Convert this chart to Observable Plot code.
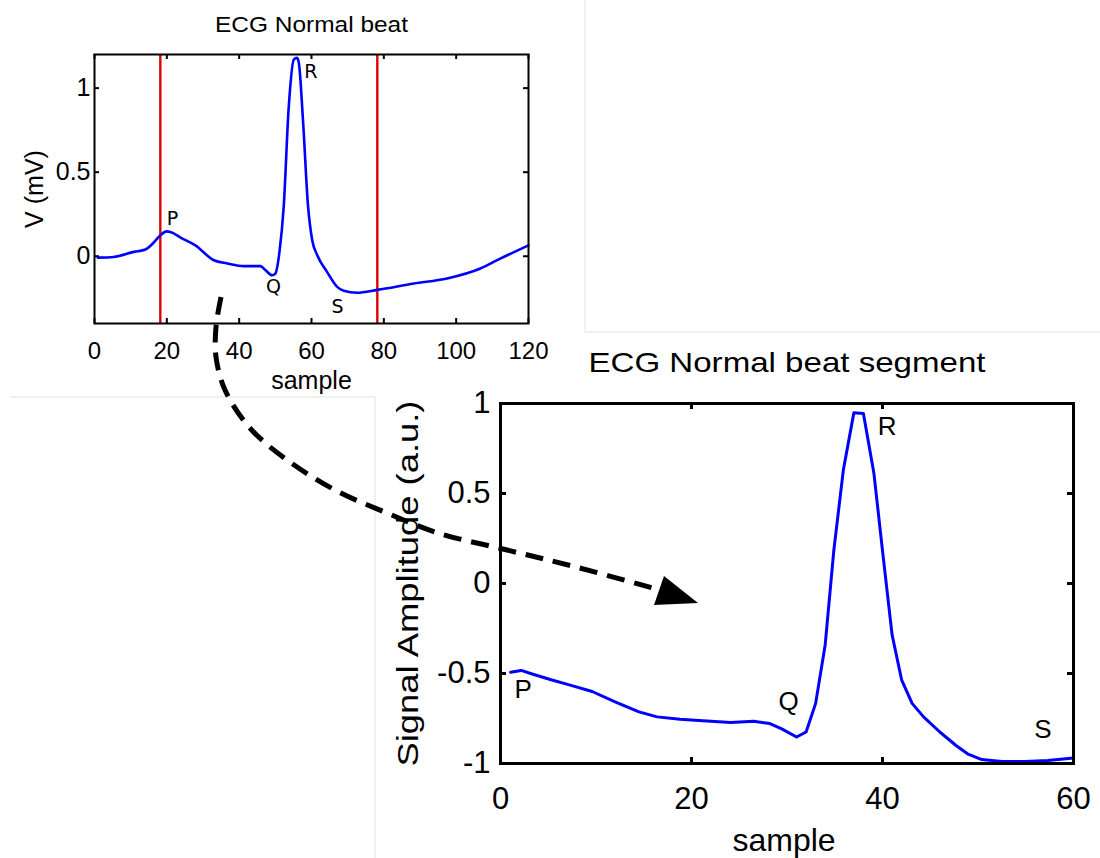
<!DOCTYPE html>
<html><head><meta charset="utf-8">
<script src="https://cdn.jsdelivr.net/npm/d3@7"></script>
<script src="https://cdn.jsdelivr.net/npm/@observablehq/plot@0.6"></script>
<style>
html,body{margin:0;padding:0;background:#fff;}
#root{position:relative;width:1100px;height:858px;overflow:hidden;background:#fff;}
#root > svg{position:absolute;}
</style></head><body><div id="root"></div>
<script>
// ---------- Data: full normal beat ----------
const beatSample = [0.9,5.3,10.9,14.1,15.9,18.2,19.9,21,23.8,27.9,33,36.7,41.3,45.9,47.3,49.1,50,51.2,52.3,53.7,55.1,56,56.5,57.7,59,60.2,61.6,64.3,67.1,68.9,72.6,78.2,88.3,97.5,106.7,112.2,120];
const beatValue  = [-0.008,-0.004,0.026,0.04,0.071,0.124,0.148,0.144,0.111,0.065,-0.024,-0.043,-0.059,-0.059,-0.083,-0.113,-0.103,0.036,0.29,0.885,1.17,1.18,1.15,0.79,0.31,0.095,0.006,-0.093,-0.182,-0.205,-0.217,-0.2,-0.162,-0.132,-0.073,-0.014,0.065];
const segmentBounds = [18.2, 78.2];
const waveLabels = ["P","Q","R","S"];
const beatLabelX = [20.0, 47.4, 58.0, 65.5];
const beatLabelY = [0.184, -0.221, 1.063, -0.336];
const beatXTicks = [0,20,40,60,80,100,120];
const beatYTicks = [0,0.5,1];

// ---------- Data: normalised segment ----------
const segSample = [1.06,2.17,3.4,5.3,7.2,9.6,12.0,14.5,16.4,18.8,21.2,24.1,26.5,28.2,29.4,31.0,32.0,33.0,34.0,34.9,35.9,37.0,38.0,39.1,40.0,41.0,42.0,43.1,44.3,46.0,47.7,48.9,50.4,52.5,54.9,57.3,60];
const segValue  = [-0.493,-0.483,-0.504,-0.535,-0.563,-0.6,-0.657,-0.713,-0.741,-0.754,-0.763,-0.772,-0.765,-0.778,-0.806,-0.853,-0.825,-0.666,-0.34,0.183,0.63,0.948,0.944,0.612,0.183,-0.284,-0.535,-0.666,-0.741,-0.825,-0.9,-0.946,-0.978,-0.989,-0.989,-0.983,-0.97];
const segLabelX = [1.47, 29.1, 39.5, 55.9];
const segLabelY = [-0.636, -0.70, 0.824, -0.859];
const segXTicks = [0,20,40,60];
const segYTicks = [-1,-0.5,0,0.5,1];

const root = document.getElementById("root");
const FONT = "'Liberation Sans', Arial, Helvetica, sans-serif";
const fmt = d => String(d);

// ---------- background separator lines (figure panel edges) ----------
const bg = d3.create("svg").attr("width",1100).attr("height",858).style("left","0px").style("top","0px");
[[585,0,585,332],[585,332,1100,332],[10,397,375,397],[375,397,375,858]].forEach(([x1,y1,x2,y2])=>{
  bg.append("line").attr("x1",x1).attr("y1",y1).attr("x2",x2).attr("y2",y2).attr("stroke","#e2e2e2").attr("stroke-width",1);
});
root.appendChild(bg.node());

// ---------- Chart 1 ----------
{
  const W=560,H=400,ML=94,MR=32,MT=54,MB=77;
  const FW=W-ML-MR, FH=H-MT-MB, TL=5;
  const beat = beatSample.map((x,i)=>({x, y: beatValue[i]}));
  const labels = waveLabels.map((t,i)=>({t, x: beatLabelX[i], y: beatLabelY[i]}));
  const svg = Plot.plot({
    width: W, height: H, marginLeft: ML, marginRight: MR, marginTop: MT, marginBottom: MB,
    x: {domain: [0,120]}, y: {domain: [-0.4,1.2]},
    style: {fontFamily: FONT, fontSize: "24px", background: "transparent", overflow: "visible", color: "black"},
    marks: [
      Plot.ruleX(segmentBounds, {x: d=>d, stroke: "#dd0000", strokeWidth: 2.4}),
      Plot.line(beat, {x: "x", y: "y", stroke: "#0000ff", strokeWidth: 2.6, curve: "monotone-x"}),
      Plot.text(labels, {x: "x", y: "y", text: "t", textAnchor: "start", lineAnchor: "bottom", fontSize: 19, fontFamily: "'DejaVu Sans', sans-serif", fill: "black"}),
      Plot.tickX(beatXTicks, {x: d=>d, insetTop: FH-TL, stroke: "black", strokeWidth: 2}),
      Plot.tickX(beatXTicks, {x: d=>d, insetBottom: FH-TL, stroke: "black", strokeWidth: 2}),
      Plot.tickY(beatYTicks, {y: d=>d, insetRight: FW-TL, stroke: "black", strokeWidth: 2}),
      Plot.tickY(beatYTicks, {y: d=>d, insetLeft: FW-TL, stroke: "black", strokeWidth: 2}),
      Plot.frame({stroke: "black", strokeWidth: 2}),
      Plot.axisX(beatXTicks, {tickSize: 0, tickPadding: 18, tickFormat: fmt, label: null, fontSize: 24}),
      Plot.axisY(beatYTicks, {tickSize: 0, tickPadding: 4, tickFormat: fmt, label: null, fontSize: 25}),
      Plot.text(["sample"], {text: d=>d, frameAnchor: "bottom", dy: 65, textAnchor: "middle", lineAnchor: "bottom", fontSize: 25}),
      Plot.text(["V (mV)"], {text: d=>d, frameAnchor: "left", dx: -52, rotate: -90, textAnchor: "middle", lineAnchor: "bottom", fontSize: 25}),
      Plot.text(["ECG Normal beat"], {text: d=>d, frameAnchor: "top", dy: -22.3, textAnchor: "middle", lineAnchor: "bottom", fontSize: 22, className: "ttl1"})
    ]
  });
  svg.style.left = "0px"; svg.style.top = "0px";
  d3.select(svg).selectAll(".ttl1 text").attr("textLength", 193).attr("lengthAdjust", "spacingAndGlyphs");
  root.appendChild(svg);
}

// ---------- Chart 2 ----------
{
  const W=720,H=528,ML=120,MR=27,MT=73,MB=95;
  const FW=W-ML-MR, FH=H-MT-MB, TL=6;
  const seg = segSample.map((x,i)=>({x, y: segValue[i]}));
  const labels = waveLabels.map((t,i)=>({t, x: segLabelX[i], y: segLabelY[i]}));
  const svg = Plot.plot({
    width: W, height: H, marginLeft: ML, marginRight: MR, marginTop: MT, marginBottom: MB,
    x: {domain: [0,60]}, y: {domain: [-1,1]},
    style: {fontFamily: FONT, fontSize: "31px", background: "transparent", overflow: "visible", color: "black"},
    marks: [
      Plot.line(seg, {x: "x", y: "y", stroke: "#0000ff", strokeWidth: 3}),
      Plot.text(labels, {x: "x", y: "y", text: "t", textAnchor: "start", lineAnchor: "bottom", fontSize: 26, fill: "black"}),
      Plot.tickX(segXTicks, {x: d=>d, insetTop: FH-TL, stroke: "black", strokeWidth: 3}),
      Plot.tickX(segXTicks, {x: d=>d, insetBottom: FH-TL, stroke: "black", strokeWidth: 3}),
      Plot.tickY(segYTicks, {y: d=>d, insetRight: FW-TL, stroke: "black", strokeWidth: 3}),
      Plot.tickY(segYTicks, {y: d=>d, insetLeft: FW-TL, stroke: "black", strokeWidth: 3}),
      Plot.frame({stroke: "black", strokeWidth: 3}),
      Plot.axisX(segXTicks, {tickSize: 0, tickPadding: 23, tickFormat: fmt, label: null, fontSize: 31}),
      Plot.axisY(segYTicks, {tickSize: 0, tickPadding: 10, tickFormat: fmt, label: null, fontSize: 31}),
      Plot.text(["sample"], {text: d=>d, frameAnchor: "bottom", dy: 87, dx: -3, textAnchor: "middle", lineAnchor: "bottom", fontSize: 32}),
      Plot.text(["Signal Amplitude (a.u.)"], {text: d=>d, frameAnchor: "left", dx: -83, rotate: -90, textAnchor: "middle", lineAnchor: "bottom", fontSize: 30, className: "ylab2"}),
      Plot.text(["ECG Normal beat segment"], {text: d=>d, frameAnchor: "top", dy: -32, textAnchor: "middle", lineAnchor: "bottom", fontSize: 28, className: "ttl2"})
    ]
  });
  svg.style.left = "380px"; svg.style.top = "330px";
  d3.select(svg).selectAll(".ttl2 text").attr("textLength", 397).attr("lengthAdjust", "spacingAndGlyphs");
  d3.select(svg).selectAll(".ylab2 text").attr("textLength", 366).attr("lengthAdjust", "spacingAndGlyphs");
  root.appendChild(svg);
}

// ---------- Dashed curved arrow (annotation) ----------
{
  const arrowPath = [[221,297],[216,327],[216,357],[225,390],[249,427],[283,457],[335,490],[387,513],[438,533],[507,550],[576,567],[660,590]];
  const arrowHead = [[664,576],[698,603],[654,605]];
  const ov = d3.create("svg").attr("width",1100).attr("height",858).style("left","0px").style("top","0px");
  ov.append("path").attr("d", d3.line().curve(d3.curveCatmullRom)(arrowPath))
    .attr("fill","none").attr("stroke","black").attr("stroke-width",5).attr("stroke-dasharray","18,10");
  ov.append("polygon").attr("points", arrowHead.map(p=>p.join(",")).join(" ")).attr("fill","black");
  root.appendChild(ov.node());
}
</script></body></html>
